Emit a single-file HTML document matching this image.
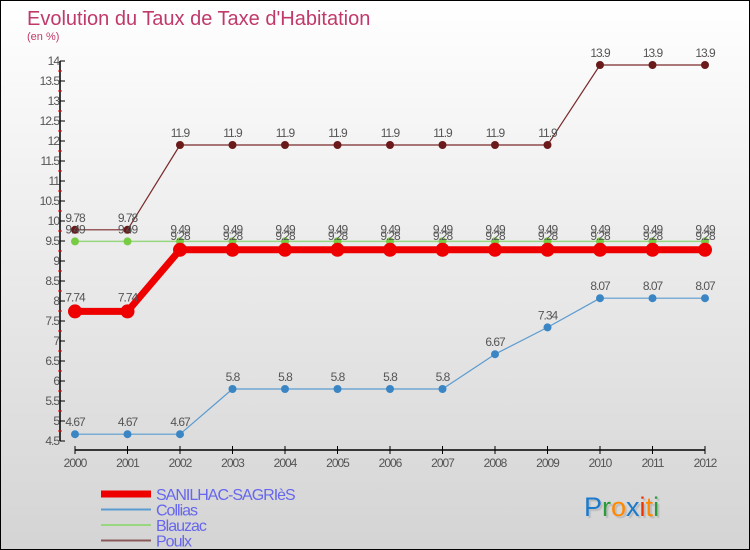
<!DOCTYPE html>
<html><head><meta charset="utf-8">
<style>
html,body{margin:0;padding:0}
body{width:750px;height:550px;overflow:hidden;font-family:"Liberation Sans",sans-serif}
#wrap{position:relative;width:748px;height:548px;border:1px solid #000;background:linear-gradient(#ffffff,#d4d4d4)}
svg{position:absolute;left:0;top:0}
</style></head>
<body>
<div id="wrap">
<svg id="chart" width="748" height="548">
<text x="26" y="24" font-size="20" fill="#c0396b">Evolution du Taux de Taxe d'Habitation</text>
<text x="26" y="39" font-size="11" fill="#c0396b">(en %)</text>
</svg>
</div>
<script>
const years=[2000,2001,2002,2003,2004,2005,2006,2007,2008,2009,2010,2011,2012];
const sanilhac=[7.74,7.74,9.28,9.28,9.28,9.28,9.28,9.28,9.28,9.28,9.28,9.28,9.28];
const collias=[4.67,4.67,4.67,5.8,5.8,5.8,5.8,5.8,6.67,7.34,8.07,8.07,8.07];
const blauzac=[9.49,9.49,9.49,9.49,9.49,9.49,9.49,9.49,9.49,9.49,9.49,9.49,9.49];
const poulx=[9.78,9.78,11.9,11.9,11.9,11.9,11.9,11.9,11.9,11.9,13.9,13.9,13.9];
const yTicks=[4.5,5,5.5,6,6.5,7,7.5,8,8.5,9,9.5,10,10.5,11,11.5,12,12.5,13,13.5,14];
const NS="http://www.w3.org/2000/svg";
const svg=document.getElementById('chart');
const yMin=4.5,yMax=14,yTop=60,yBot=440;
const X=i=>74+i*52.5;
const Y=v=>yBot-(v-yMin)/(yMax-yMin)*(yBot-yTop);
function mk(t,a,p){const e=document.createElementNS(NS,t);for(const k in a)e.setAttribute(k,a[k]);(p||svg).appendChild(e);return e;}
const ax=mk('line',{x1:59,y1:yTop,x2:59,y2:yBot,stroke:'#000','stroke-width':1.5});


yTicks.forEach((v,i)=>{
  const y=Y(v);
  const t=mk('line',{x1:59,y1:y,x2:64,y2:y,stroke:'#000','stroke-width':1});
  
  
  const l=mk('text',{x:58,y:y+4,'font-size':12,fill:'#555','text-anchor':'end','letter-spacing':'-1'});
  l.textContent=String(v);
  
  
  if(i<yTicks.length-1){
    const m=mk('line',{x1:57,y1:Y(v+0.25),x2:61,y2:Y(v+0.25),stroke:'#e00','stroke-width':1});
    
    
  }
});
const xa=mk('line',{x1:X(0),y1:449,x2:X(years.length-1),y2:449,stroke:'#000','stroke-width':1.5});


years.forEach((yr,i)=>{
  const t=mk('line',{x1:X(i),y1:445,x2:X(i),y2:453,stroke:'#000','stroke-width':1});
  
  
  const l=mk('text',{x:X(i),y:466,'font-size':12,fill:'#555','text-anchor':'middle','letter-spacing':'-1'});
  l.textContent=yr;
  
  
});
function series(vals,color,w,r,dot,name,labOff){
  const g=mk('g',{});
  
  
  const pts=vals.map((v,i)=>X(i)+','+Y(v)).join(' ');
  mk('polyline',{points:pts,fill:'none',stroke:color,'stroke-width':w,'stroke-linejoin':'round'},g);
  vals.forEach((v,i)=>{
    const c=mk('circle',{cx:X(i),cy:Y(v),r:r,fill:dot},g);
    
    
    const l=mk('text',{x:X(i),y:Y(v)-labOff,'font-size':12,fill:'#555','text-anchor':'middle','letter-spacing':'-1'},g);
    l.textContent=String(v);
    
    
  });
}
series(poulx,'#7a2a2a',1.2,4,'#6a1a1a','poulx',8);
series(collias,'#5b9bd0',1.2,4,'#3a86c4','collias',8);
series(blauzac,'#99d680',1.5,4,'#77cc44','blauzac',8);
series(sanilhac,'#ee0000',7,7,'#ee0000','sanilhac',10);
const leg=[['SANILHAC-SAGRIèS','#ee0000',7],['Collias','#5b9bd0',2],['Blauzac','#99d680',2],['Poulx','#8a5a5a',2]];
leg.forEach((d,i)=>{
  const y=493+i*15.5;
  const g=mk('g',{});
  
  
  mk('line',{x1:100,y1:y,x2:150,y2:y,stroke:d[1],'stroke-width':d[2]},g);
  const t=mk('text',{x:155,y:y+6,'font-size':16,fill:'#6666ee','letter-spacing':'-1'},g);
  t.textContent=d[0];
});
const lg=mk('text',{x:583,y:515,'font-size':27,'font-weight':'normal',style:'text-shadow:2px 2px 1px #bbb'});


[['P','#1a7acc'],['r','#2a9a3a'],['o','#ff8800'],['x','#1a7acc'],['i','#ee3300'],['t','#ff8800'],['i','#2a9a3a']].forEach(c=>{
  const s=mk('tspan',{fill:c[1]},lg);s.textContent=c[0];
});
</script>
</body></html>
